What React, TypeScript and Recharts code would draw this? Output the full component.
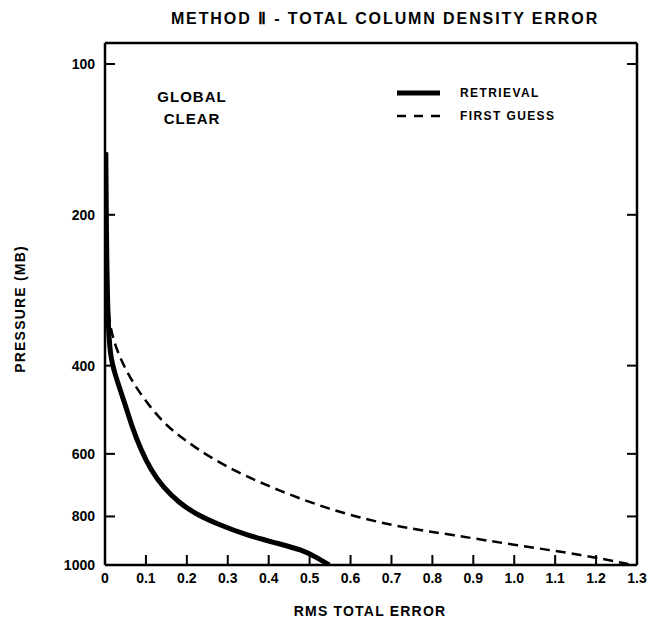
import { Scatter, ScatterChart, XAxis, YAxis } from "recharts";

// RMS total error axis ticks and pressure levels (mb)
const errorTicks = [0, 0.1, 0.2, 0.3, 0.4, 0.5, 0.6, 0.7, 0.8, 0.9, 1.0, 1.1, 1.2, 1.3];
const pressureTicks = [100, 200, 400, 600, 800, 1000];

// retrieval profile
const retrievalPressure = [150, 250, 340, 390, 430, 480, 530, 590, 646, 700, 750, 790, 832, 871, 904, 933, 964, 1000];
const retrievalError = [0.002, 0.004, 0.008, 0.014, 0.03, 0.05, 0.066, 0.088, 0.112, 0.142, 0.18, 0.22, 0.28, 0.345, 0.418, 0.482, 0.515, 0.548];

// first guess profile
const firstGuessPressure = [150, 280, 335, 385, 433, 484, 530, 563, 609, 660, 710, 760, 802, 840, 871, 912, 955, 1000];
const firstGuessError = [0.002, 0.005, 0.01, 0.035, 0.068, 0.11, 0.153, 0.195, 0.255, 0.335, 0.425, 0.52, 0.615, 0.72, 0.85, 1.0, 1.17, 1.29];

const retrieval = retrievalPressure.map((p, i) => ({ p, err: retrievalError[i] }));
const firstGuess = firstGuessPressure.map((p, i) => ({ p, err: firstGuessError[i] }));

const FONT = "'Liberation Sans', Arial, sans-serif";
const tickStyle = { fill: "#000", fontSize: 14, fontWeight: 700 };
const axisLine = { stroke: "#000", strokeWidth: 2.5 };
const tickLine = { stroke: "#000", strokeWidth: 2 };
const noDot = () => <g />;

export default function App() {
  return (
    <div style={{ position: "absolute", left: 0, top: 0, width: 652, height: 622, background: "#fff", fontFamily: FONT }}>
      <ScatterChart width={652} height={622} margin={{ top: 33, right: 5, bottom: 27, left: 45 }}>
        <XAxis
          xAxisId="bottom"
          type="number"
          dataKey="err"
          domain={[0, 1.3]}
          ticks={errorTicks}
          allowDataOverflow
          height={30}
          tickSize={-10}
          tickMargin={18}
          tick={tickStyle}
          tickFormatter={(v: number) => (v === 0 ? "0" : v.toFixed(1))}
          axisLine={axisLine}
          tickLine={tickLine}
        />
        <XAxis
          xAxisId="top"
          orientation="top"
          type="number"
          domain={[0, 1.3]}
          ticks={errorTicks}
          allowDataOverflow
          height={10}
          tickSize={-10}
          tickFormatter={() => ""}
          axisLine={axisLine}
          tickLine={tickLine}
        />
        <YAxis
          yAxisId="left"
          type="number"
          dataKey="p"
          scale="log"
          domain={[90.8, 1000]}
          ticks={pressureTicks}
          reversed
          allowDataOverflow
          width={60}
          tickSize={-10}
          tickMargin={20}
          tick={tickStyle}
          axisLine={axisLine}
          tickLine={tickLine}
        />
        <YAxis
          yAxisId="right"
          orientation="right"
          type="number"
          scale="log"
          domain={[90.8, 1000]}
          ticks={pressureTicks}
          reversed
          allowDataOverflow
          width={10}
          tickSize={-10}
          tickFormatter={() => ""}
          axisLine={axisLine}
          tickLine={tickLine}
        />
        <Scatter
          name="FIRST GUESS"
          data={firstGuess}
          xAxisId="bottom"
          yAxisId="left"
          shape={noDot}
          line={{ stroke: "#000", strokeWidth: 2.5, strokeDasharray: "10 6" }}
          lineJointType="basis"
          isAnimationActive={false}
        />
        <Scatter
          name="RETRIEVAL"
          data={retrieval}
          xAxisId="bottom"
          yAxisId="left"
          shape={noDot}
          line={{ stroke: "#000", strokeWidth: 5 }}
          lineJointType="basis"
          isAnimationActive={false}
        />
      </ScatterChart>

      <svg width={652} height={622} style={{ position: "absolute", left: 0, top: 0, pointerEvents: "none" }}>
        <g fontFamily={FONT} fontWeight={700} fill="#000">
          <text x={385} y={24} fontSize={16} letterSpacing={1.9} textAnchor="middle">
            METHOD Ⅱ - TOTAL COLUMN DENSITY ERROR
          </text>
          <text x={192} y={102} fontSize={15} letterSpacing={1} textAnchor="middle">GLOBAL</text>
          <text x={192} y={124} fontSize={15} letterSpacing={1} textAnchor="middle">CLEAR</text>

          <line x1={397} x2={440} y1={93} y2={93} stroke="#000" strokeWidth={5} />
          <text x={460} y={97} fontSize={12} letterSpacing={1.4}>RETRIEVAL</text>
          <line x1={397} x2={440} y1={116} y2={116} stroke="#000" strokeWidth={2.5} strokeDasharray="9 8" />
          <text x={460} y={120} fontSize={12} letterSpacing={1.4}>FIRST GUESS</text>

          <text x={370} y={616} fontSize={14} letterSpacing={1.2} textAnchor="middle">RMS TOTAL ERROR</text>
          <text
            x={25}
            y={309}
            fontSize={14}
            letterSpacing={1.2}
            textAnchor="middle"
            transform="rotate(-90 25 309)"
          >
            PRESSURE (MB)
          </text>
        </g>
      </svg>
    </div>
  );
}
